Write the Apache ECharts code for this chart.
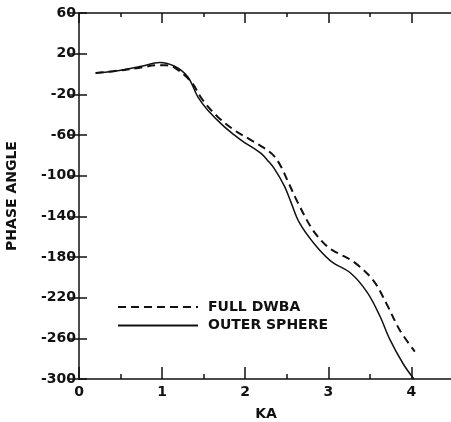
<!DOCTYPE html>
<html>
<head>
<meta charset="utf-8">
<script src="https://cdn.jsdelivr.net/npm/echarts@6/dist/echarts.min.js"></script>
<style>
	html, body { margin: 0; padding: 0; background: #fff; }
	#chart { width: 451px; height: 422px; }
</style>
</head>
<body>
<div id="chart"></div>
<script>
var kaFull = [0.2, 0.55, 0.75, 0.95, 1.05, 1.15, 1.35, 1.49, 1.67, 1.87, 2.05, 2.15, 2.25, 2.35, 2.43, 2.51, 2.63, 2.81, 2.99, 3.11, 3.31, 3.54, 3.70, 3.86, 4.04];
var phaseFull = [1, 4, 6.5, 8.6, 8.5, 6.3, -7.8, -25.8, -42.2, -55.3, -64, -69, -74, -81, -91, -105, -126, -153, -170, -176, -185, -203, -226, -252, -273];

var kaOuter = [0.2, 0.4, 0.55, 0.75, 0.97, 1.15, 1.31, 1.43, 1.55, 1.75, 1.95, 2.19, 2.27, 2.35, 2.47, 2.55, 2.65, 2.83, 3.03, 3.27, 3.47, 3.62, 3.74, 3.90, 4.03];
var phaseOuter = [1, 2.5, 4.4, 7.6, 11.3, 7.6, -2.9, -22.5, -35.6, -52, -65, -78, -85, -93, -110, -126, -146, -167, -184, -196, -215, -238, -261, -285, -300];

var kaTicks = [0, 1, 2, 3, 4];
var seriesNames = ['FULL DWBA', 'OUTER SPHERE'];

var ink = '#111';
var font = 'DejaVu Sans';
var weight = 'bold';

function pairs(xs, ys) {
	return xs.map(function(x, i) { return [x, ys[i]]; });
}

// x axes: long ticks at integers, short ticks at halves (bottom and top)
function kaAxis(position, interval, tickLen, withLabels, withLine) {
	return {
		type: 'value',
		position: position,
		min: 0,
		max: 4.5,
		interval: interval,
		splitLine: { show: false },
		axisLine: { show: withLine, onZero: false, lineStyle: { color: ink, width: 1.5 } },
		axisTick: { show: true, inside: true, length: tickLen, lineStyle: { color: ink, width: 1.5 } },
		axisLabel: {
			show: withLabels,
			margin: 6,
			color: ink,
			fontFamily: font,
			fontWeight: weight,
			fontSize: 14,
			formatter: function(v) {
				return kaTicks.indexOf(v) >= 0 ? String(v) : '';
			}
		}
	};
}

var chart = echarts.init(document.getElementById('chart'));

var xBottom = kaAxis('bottom', 1, 12, true, true);
xBottom.name = 'KA';
xBottom.nameLocation = 'middle';
xBottom.nameGap = 28;
xBottom.nameTextStyle = { color: ink, fontFamily: font, fontWeight: weight, fontSize: 14 };

var option = {
	animation: false,
	backgroundColor: '#fff',
	grid: {
		left: 79,
		right: -2,
		top: 13,
		bottom: 43,
		containLabel: false,
		outerBoundsMode: 'none'
	},
	legend: {
		data: seriesNames,
		orient: 'vertical',
		left: 117,
		top: 300,
		padding: 0,
		itemWidth: 80,
		itemHeight: 14,
		itemGap: 4.5,
		itemStyle: { opacity: 0 },
		textStyle: { color: ink, fontFamily: font, fontWeight: weight, fontSize: 14, padding: [0, 0, 0, 5] }
	},
	xAxis: [
		xBottom,
		kaAxis('bottom', 0.5, 5, false, false),
		kaAxis('top', 1, 10, false, true),
		kaAxis('top', 0.5, 4, false, false)
	],
	yAxis: [
		{
			type: 'value',
			position: 'left',
			min: -300,
			max: 60,
			interval: 40,
			name: 'PHASE ANGLE',
			nameLocation: 'middle',
			nameGap: 60,
			nameTextStyle: { color: ink, fontFamily: font, fontWeight: weight, fontSize: 14 },
			splitLine: { show: false },
			axisLine: { show: true, onZero: false, lineStyle: { color: ink, width: 1.5 } },
			axisTick: { show: true, inside: true, length: 8, lineStyle: { color: ink, width: 1.5 } },
			axisLabel: { margin: 3, color: ink, fontFamily: font, fontWeight: weight, fontSize: 14 }
		},
		{
			type: 'value',
			position: 'right',
			min: -300,
			max: 60,
			interval: 40,
			splitLine: { show: false },
			axisLine: { show: false },
			axisTick: { show: true, inside: true, length: 10, lineStyle: { color: ink, width: 1.5 } },
			axisLabel: { show: false }
		}
	],
	series: [
		{
			name: seriesNames[0],
			type: 'line',
			xAxisIndex: 0,
			yAxisIndex: 0,
			smooth: 0.35,
			showSymbol: false,
			symbol: 'none',
			lineStyle: { color: ink, width: 2, type: [8, 5] },
			itemStyle: { color: ink },
			data: pairs(kaFull, phaseFull)
		},
		{
			name: seriesNames[1],
			type: 'line',
			xAxisIndex: 0,
			yAxisIndex: 0,
			smooth: 0.35,
			showSymbol: false,
			symbol: 'none',
			lineStyle: { color: ink, width: 1.5, type: 'solid' },
			itemStyle: { color: ink },
			data: pairs(kaOuter, phaseOuter)
		}
	]
};

chart.setOption(option);
</script>
</body>
</html>
